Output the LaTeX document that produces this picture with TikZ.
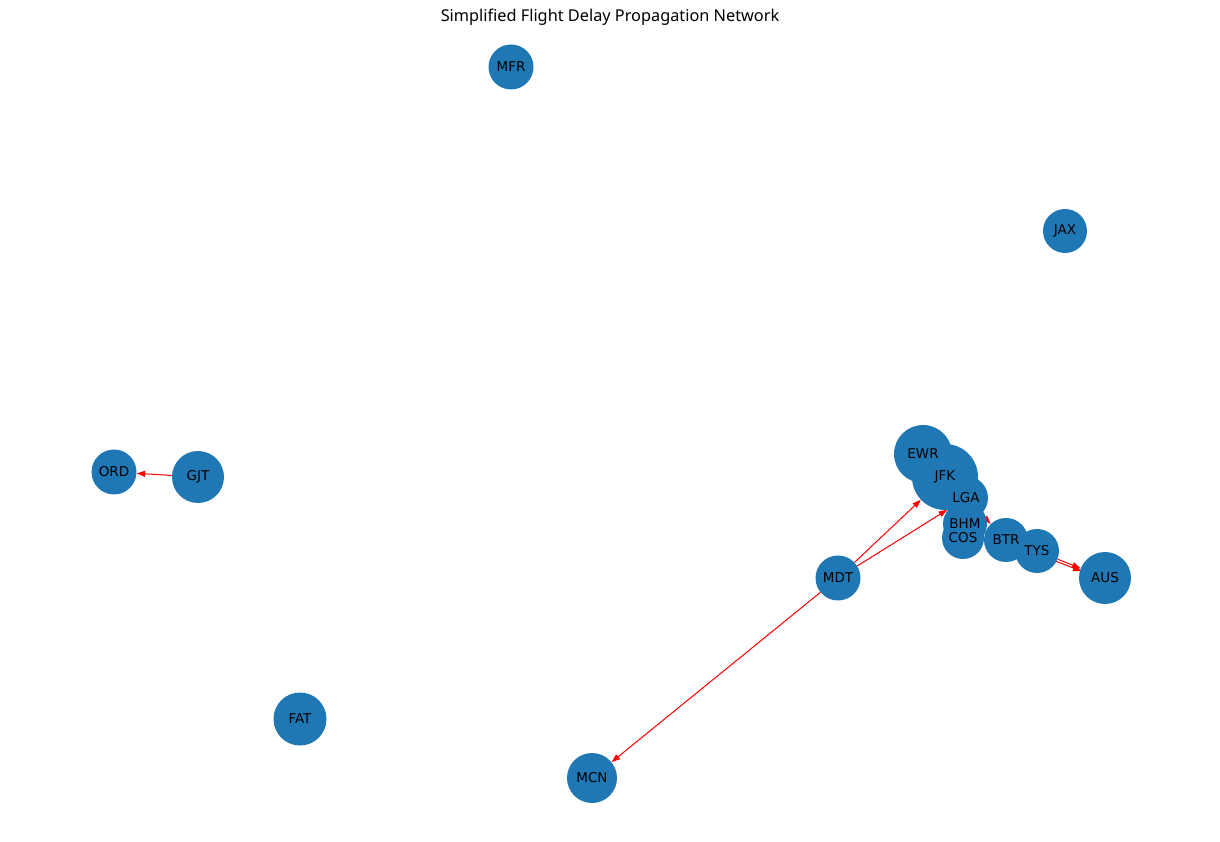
\documentclass[tikz,border=0pt]{standalone}
\usepackage{fontspec}
\setmainfont{DejaVu Sans}
\newfontfamily\titlefont{Noto Sans}
\usepackage{xcolor}
\usetikzlibrary{arrows.meta, backgrounds}
\definecolor{nodeblue}{HTML}{1F77B4}

\tikzset{
  VertexStyle/.style={circle, fill=nodeblue, inner sep=0pt},
  LabelStyle/.style={font=\fontsize{13.5}{14}\selectfont, text=black, inner sep=0pt},
  EdgeStyle/.style={red, line width=1pt, -{Triangle[length=8.5pt,width=6pt]}}
}

\begin{document}
\begin{tikzpicture}[x=1pt, y=1pt]
\useasboundingbox (0,0) rectangle (1220,841);
\node[font=\titlefont\fontsize{16.3}{18}\selectfont] (title) at (610,824) {Simplified Flight Delay Propagation Network};
\foreach \n/\x/\y/\s in {MFR/511/774/45, JAX/1065/610/44, ORD/114/369/45, GJT/198/364/52,
  FAT/300/122/53, MCN/592/63/50, MDT/838/263/45, EWR/923/387/58, JFK/945/364/66,
  LGA/966/343/44, BHM/965/317/44, COS/963/303/42, BTR/1006/301/44, TYS/1037/290/44,
  AUS/1105/263/52}
  \node[VertexStyle, minimum size=\s pt] (\n) at (\x,\y) {};
\foreach \n in {MFR, JAX, ORD, GJT, FAT, MCN, MDT, EWR, JFK, LGA, BHM, COS, BTR, TYS, AUS}
  \node[LabelStyle] at (\n) {\n};

\begin{pgfonlayer}{background}
\draw[EdgeStyle] (GJT) -- (ORD);
\draw[EdgeStyle] (MDT) -- (JFK);
\draw[EdgeStyle] (MDT) -- (LGA);
\draw[EdgeStyle] (MDT) -- (MCN);
\draw[EdgeStyle] (LGA) -- (BTR);
\draw[EdgeStyle, transform canvas={shift={(1pt,-2.5pt)}}] (BTR) -- (AUS);
\draw[EdgeStyle] (TYS) -- (AUS);
\end{pgfonlayer}

\end{tikzpicture}
\end{document}
